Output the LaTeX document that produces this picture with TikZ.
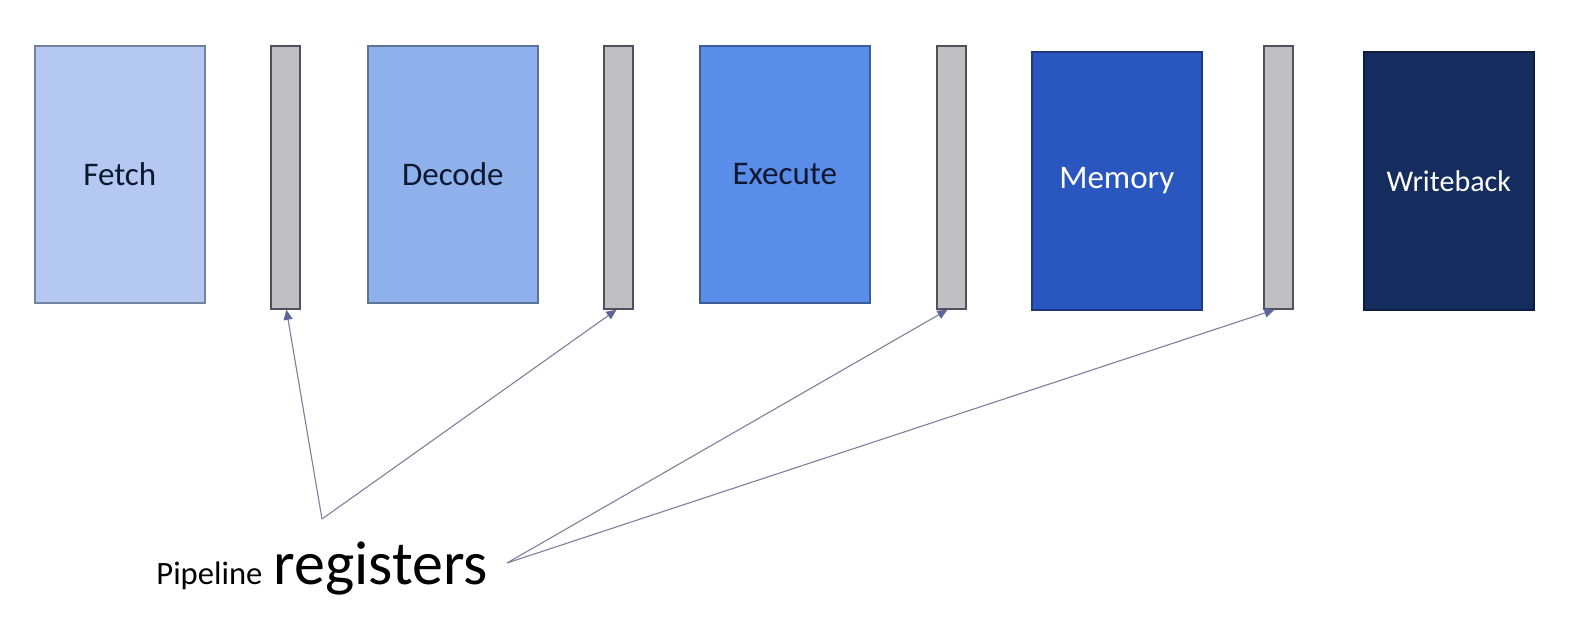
\documentclass[tikz,border=0pt]{standalone}
\usepackage{fontspec}
\setmainfont{Carlito}
\usetikzlibrary{arrows.meta}
\definecolor{cfetch}{HTML}{B4C8F1}
\definecolor{cdecode}{HTML}{8EB1EC}
\definecolor{cexec}{HTML}{5A8DE8}
\definecolor{cmem}{HTML}{2A57BF}
\definecolor{cwb}{HTML}{142D5E}
\definecolor{creg}{HTML}{C0C0C3}
\definecolor{cregb}{HTML}{50505E}
\definecolor{cline}{HTML}{7C819C}
\definecolor{chead}{HTML}{5E6699}
\definecolor{ctext}{HTML}{0D1730}
\begin{document}
\begin{tikzpicture}[x=0.5pt,y=-0.5pt,
  stage/.style={draw=#1!65!black, fill=#1, line width=0.8pt, minimum width=85pt, minimum height=128.5pt, inner sep=0pt, anchor=north west, font=\fontsize{16.5}{18}\selectfont, text=ctext},
  regbox/.style={draw=cregb, fill=creg, line width=0.9pt, minimum width=14.5pt, minimum height=131.5pt, inner sep=0pt, anchor=north west},
  ptr/.style={draw=cline, line width=0.55pt, -{Triangle[length=5pt,width=4.5pt,fill=chead,color=chead]}}]
\useasboundingbox[fill=white] (0,0) rectangle (1570,624);
\node[stage=cfetch] (fetch) at (34,45) {Fetch};
\node[regbox] (r1) at (270,45) {};
\node[stage=cdecode] (decode) at (367,45) {Decode};
\node[regbox] (r2) at (603,45) {};
\node[stage=cexec] (exec) at (699,45) {Execute};
\node[regbox] (r3) at (936,45) {};
\node[stage=cmem, text=white, minimum height=129pt] (mem) at (1031,51) {Memory};
\node[regbox] (r4) at (1263,45) {};
\node[stage=cwb, text=white, minimum height=129pt, font=\fontsize{15}{17}\selectfont] (wb) at (1363,51) {Writeback};
\node[anchor=base west, inner sep=0pt, text=black] (lbl) at (156,585) {\fontsize{16.3}{18}\selectfont Pipeline\hspace{5.5pt}\fontsize{31}{34}\selectfont registers};
\coordinate (c1) at (322,519);
\coordinate (c2) at (507,563);
\draw[ptr] (c1) -- ([xshift=0.5pt]r1.south);
\draw[ptr] (c1) -- ([xshift=-1pt]r2.south);
\draw[ptr] (c2) -- ([xshift=-2pt]r3.south);
\draw[ptr] (c2) -- ([xshift=-2pt]r4.south);
\end{tikzpicture}
\end{document}
